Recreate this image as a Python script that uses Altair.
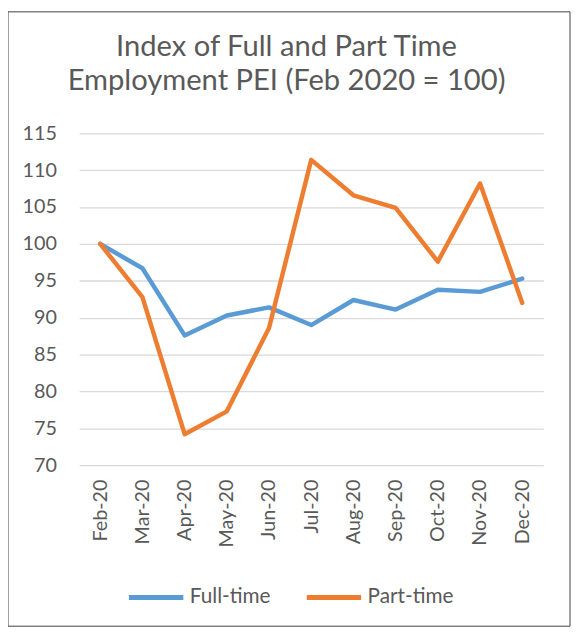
import altair as alt
import pandas as pd

months = ["Feb-20", "Mar-20", "Apr-20", "May-20", "Jun-20", "Jul-20",
          "Aug-20", "Sep-20", "Oct-20", "Nov-20", "Dec-20"]
full_time = [100.0, 96.7, 87.6, 90.3, 91.4, 89.0, 92.4, 91.1, 93.8, 93.5, 95.3]
part_time = [100.0, 92.8, 74.2, 77.3, 88.6, 111.4, 106.6, 104.9, 97.6, 108.2, 92.0]
series_names = ["Full-time", "Part-time"]
series_colors = ["#5B9BD5", "#ED7D31"]
y_ticks = [70, 75, 80, 85, 90, 95, 100, 105, 110, 115]

rows = []
for name, vals in zip(series_names, [full_time, part_time]):
    for i, (m, v) in enumerate(zip(months, vals)):
        rows.append({"Month": m, "Series": name, "Value": v, "order": i})
df = pd.DataFrame(rows)

FONT = "Lato"
TXT = "#595959"

lines = alt.Chart(df).mark_line(strokeWidth=4.5, strokeCap="round", strokeJoin="round").encode(
    x=alt.X("Month:N", sort=months, title=None,
            axis=alt.Axis(labelAngle=270, labelPadding=14, labelFontSize=20,
                          labelColor=TXT, labelFont=FONT, domain=False, ticks=False,
                          grid=False)),
    y=alt.Y("Value:Q", title=None,
            scale=alt.Scale(domain=[70, 115], nice=False, zero=False),
            axis=alt.Axis(values=y_ticks, labelPadding=23, labelFontSize=20,
                          labelColor=TXT, labelFont=FONT, domain=False, ticks=False,
                          grid=True, gridColor="#d9d9d9", gridWidth=1.3)),
    color=alt.Color("Series:N",
                    scale=alt.Scale(domain=series_names, range=series_colors),
                    legend=alt.Legend(title=None, orient="none", direction="horizontal",
                                      legendX=48, legendY=440,
                                      symbolType="stroke", symbolSize=3025,
                                      symbolStrokeWidth=5, labelFontSize=21,
                                      labelFont=FONT, labelColor=TXT,
                                      labelOffset=4, columnPadding=26)),
    order="order:Q",
)

frame = alt.Chart(pd.DataFrame({"a": [0]})).mark_rect(
    filled=False, stroke="#404040", strokeWidth=1
).encode(
    x=alt.value(-72), x2=alt.value(497), y=alt.value(-123), y2=alt.value(499)
)

chart = alt.layer(lines, frame).properties(
    width=470,
    height=336,
    padding={"left": 72, "top": 123, "right": 28, "bottom": 165},
    autosize=alt.AutoSizeParams(type="none"),
    title=alt.TitleParams(
        ["Index of Full and Part Time", "Employment PEI (Feb 2020 = 100)"],
        fontSize=29.5, font=FONT, color=TXT, fontWeight="normal",
        lineHeight=34, anchor="middle", dx=-25, offset=-86,
    ),
).configure_view(stroke=None)

chart.save("out.html", embed_options={"renderer": "svg", "actions": False})
